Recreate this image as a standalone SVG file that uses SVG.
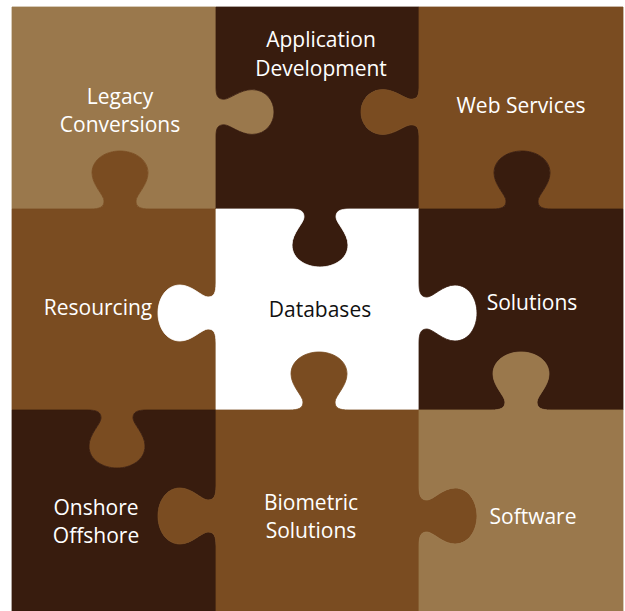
<svg xmlns="http://www.w3.org/2000/svg" width="625" height="611" viewBox="0 0 625 611">
<style>
.light{fill:#9a784c;stroke:#9a784c}
.mid{fill:#7a4c21;stroke:#7a4c21}
.dark{fill:#381c0e;stroke:#381c0e}
.white{fill:#ffffff;stroke:#ffffff}
path{stroke-width:0.8;stroke-linejoin:round}
text{font-family:"Open Sans","Liberation Sans",sans-serif;font-size:21px;fill:#ffffff;text-anchor:middle}
text.blk{fill:#111111}
</style>
<rect width="625" height="611" fill="#ffffff"/>
<g id="legacy-conversions">
<path class="light" d="M12,7 H216 V88 c0,8 2,11.2 8,11.2 c6,0 16,-9.6 28,-9.6 c14,0 22,11.2 22,22.4 c0,11.2 -8,22.4 -22,22.4 c-12,0 -22,-9.6 -28,-9.6 c-6,0 -8,3.2 -8,11.2 V209 H150 c-10,0 -14,-2 -14,-8 c0,-6 12,-16 12,-28 c0,-14 -14,-22 -28,-22 c-14,0 -28,8 -28,22 c0,12 12,22 12,28 c0,6 -4,8 -14,8 H12 Z"/>
<text x="120" y="104">Legacy</text>
<text x="120" y="132">Conversions</text>
</g>
<g id="application-development">
<path class="dark" d="M216,7 H419 V88 c0,8 -2,11.2 -8,11.2 c-6,0 -16,-9.6 -28,-9.6 c-14,0 -22,11.2 -22,22.4 c0,11.2 8,22.4 22,22.4 c12,0 22,-9.6 28,-9.6 c6,0 8,3.2 8,11.2 V209 H350 c-10,0 -14,2 -14,8 c0,6 12,16 12,28 c0,14 -14,22 -28,22 c-14,0 -28,-8 -28,-22 c0,-12 12,-22 12,-28 c0,-6 -4,-8 -14,-8 H216 V136 c0,-8 2,-11.2 8,-11.2 c6,0 16,9.6 28,9.6 c14,0 22,-11.2 22,-22.4 c0,-11.2 -8,-22.4 -22,-22.4 c-12,0 -22,9.6 -28,9.6 c-6,0 -8,-3.2 -8,-11.2 Z"/>
<text x="321" y="47">Application</text>
<text x="321" y="76">Development</text>
</g>
<g id="web-services">
<path class="mid" d="M419,7 H623 V209 H552 c-10,0 -14,-2 -14,-8 c0,-6 12,-16 12,-28 c0,-14 -14,-22 -28,-22 c-14,0 -28,8 -28,22 c0,12 12,22 12,28 c0,6 -4,8 -14,8 H419 V136 c0,-8 -2,-11.2 -8,-11.2 c-6,0 -16,9.6 -28,9.6 c-14,0 -22,-11.2 -22,-22.4 c0,-11.2 8,-22.4 22,-22.4 c12,0 22,9.6 28,9.6 c6,0 8,-3.2 8,-11.2 Z"/>
<text x="521" y="113">Web Services</text>
</g>
<g id="resourcing">
<path class="mid" d="M12,209 H90 c10,0 14,-2 14,-8 c0,-6 -12,-16 -12,-28 c0,-14 14,-22 28,-22 c14,0 28,8 28,22 c0,12 -12,22 -12,28 c0,6 4,8 14,8 H216 V283 c0,10 -2,14 -8,14 c-6,0 -16,-12 -28,-12 c-14,0 -22,14 -22,28 c0,14 8,28 22,28 c12,0 22,-12 28,-12 c6,0 8,4 8,14 V410 H147 c-10,0 -14,2 -14,8 c0,6 12,16 12,28 c0,14 -14,22 -28,22 c-14,0 -28,-8 -28,-22 c0,-12 12,-22 12,-28 c0,-6 -4,-8 -14,-8 H12 Z"/>
<text x="98" y="315">Resourcing</text>
</g>
<g id="databases">
<path class="white" d="M216,209 H290 c10,0 14,2 14,8 c0,6 -12,16 -12,28 c0,14 14,22 28,22 c14,0 28,-8 28,-22 c0,-12 -12,-22 -12,-28 c0,-6 4,-8 14,-8 H419 V283 c0,10 2,14 8,14 c6,0 16,-12 28,-12 c14,0 22,14 22,28 c0,14 -8,28 -22,28 c-12,0 -22,-12 -28,-12 c-6,0 -8,4 -8,14 V410 H349 c-10,0 -14,-2 -14,-8 c0,-6 12,-16 12,-28 c0,-14 -14,-22 -28,-22 c-14,0 -28,8 -28,22 c0,12 12,22 12,28 c0,6 -4,8 -14,8 H216 V343 c0,-10 -2,-14 -8,-14 c-6,0 -16,12 -28,12 c-14,0 -22,-14 -22,-28 c0,-14 8,-28 22,-28 c12,0 22,12 28,12 c6,0 8,-4 8,-14 Z"/>
<text class="blk" x="320" y="317">Databases</text>
</g>
<g id="solutions">
<path class="dark" d="M419,209 H492 c10,0 14,-2 14,-8 c0,-6 -12,-16 -12,-28 c0,-14 14,-22 28,-22 c14,0 28,8 28,22 c0,12 -12,22 -12,28 c0,6 4,8 14,8 H623 V410 H551 c-10,0 -14,-2 -14,-8 c0,-6 12,-16 12,-28 c0,-14 -14,-22 -28,-22 c-14,0 -28,8 -28,22 c0,12 12,22 12,28 c0,6 -4,8 -14,8 H419 V343 c0,-10 2,-14 8,-14 c6,0 16,12 28,12 c14,0 22,-14 22,-28 c0,-14 -8,-28 -22,-28 c-12,0 -22,12 -28,12 c-6,0 -8,-4 -8,-14 Z"/>
<text x="532" y="310">Solutions</text>
</g>
<g id="onshore-offshore">
<path class="dark" d="M12,410 H87 c10,0 14,2 14,8 c0,6 -12,16 -12,28 c0,14 14,22 28,22 c14,0 28,-8 28,-22 c0,-12 -12,-22 -12,-28 c0,-6 4,-8 14,-8 H216 V486 c0,10 -2,14 -8,14 c-6,0 -16,-12 -28,-12 c-14,0 -22,14 -22,28 c0,14 8,28 22,28 c12,0 22,-12 28,-12 c6,0 8,4 8,14 V611 H12 Z"/>
<text x="96" y="515">Onshore</text>
<text x="96" y="543">Offshore</text>
</g>
<g id="biometric-solutions">
<path class="mid" d="M216,410 H289 c10,0 14,-2 14,-8 c0,-6 -12,-16 -12,-28 c0,-14 14,-22 28,-22 c14,0 28,8 28,22 c0,12 -12,22 -12,28 c0,6 4,8 14,8 H419 V486 c0,10 2,14 8,14 c6,0 16,-12 28,-12 c14,0 22,14 22,28 c0,14 -8,28 -22,28 c-12,0 -22,-12 -28,-12 c-6,0 -8,4 -8,14 V611 H216 V546 c0,-10 -2,-14 -8,-14 c-6,0 -16,12 -28,12 c-14,0 -22,-14 -22,-28 c0,-14 8,-28 22,-28 c12,0 22,12 28,12 c6,0 8,-4 8,-14 Z"/>
<text x="311" y="510">Biometric</text>
<text x="311" y="538">Solutions</text>
</g>
<g id="software">
<path class="light" d="M419,410 H491 c10,0 14,-2 14,-8 c0,-6 -12,-16 -12,-28 c0,-14 14,-22 28,-22 c14,0 28,8 28,22 c0,12 -12,22 -12,28 c0,6 4,8 14,8 H623 V611 H419 V546 c0,-10 2,-14 8,-14 c6,0 16,12 28,12 c14,0 22,-14 22,-28 c0,-14 -8,-28 -22,-28 c-12,0 -22,12 -28,12 c-6,0 -8,-4 -8,-14 Z"/>
<text x="533" y="524">Software</text>
</g>
<g id="connectors"/>
</svg>
